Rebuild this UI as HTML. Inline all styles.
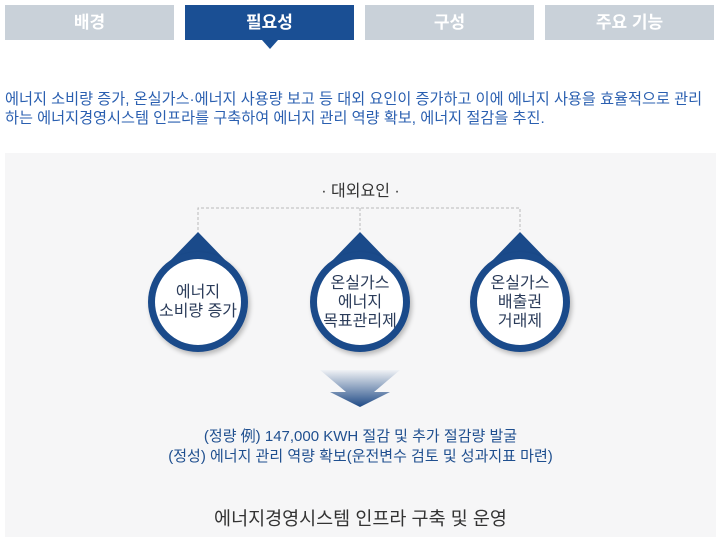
<!DOCTYPE html>
<html><head><meta charset="utf-8"><style>
*{margin:0;padding:0;box-sizing:border-box}
body{width:721px;height:537px;background:#fff;position:relative;overflow:hidden;font-family:"Liberation Sans","Noto Sans CJK KR","NanumGothic",sans-serif}
.tab{position:absolute;top:5px;width:169px;height:35px;background:#c9d1d9;color:#fff;font-size:17px;font-weight:bold;text-align:center;line-height:35px}
.tab.on{background:#1a4f94}
.intro{position:absolute;left:5px;top:90px;font-size:15.2px;color:#2a5fb0;line-height:19px;letter-spacing:0px;white-space:nowrap}
.panel{position:absolute;left:5px;top:153px;width:711px;height:384px;background:#f6f6f7}
.t{position:absolute;left:0;width:721px;text-align:center}
.drop{position:absolute;width:100px;height:100px}
.drop .c{position:absolute;left:0;top:0;width:100px;height:100px;border-radius:50%;background:#1a4a8a;box-shadow:2px 3px 5px rgba(0,0,0,.25)}
.drop .i{position:absolute;left:7px;top:7px;width:86px;height:86px;border-radius:50%;background:#fff;display:flex;align-items:center;justify-content:center;text-align:center;font-size:16px;line-height:19px;color:#2b3c5a}
</style></head><body>
<div class="tab" style="left:5px">배경</div>
<div class="tab on" style="left:185px">필요성</div>
<div style="position:absolute;left:262px;top:40px;width:0;height:0;border-left:8px solid transparent;border-right:8px solid transparent;border-top:9px solid #1a4f94"></div>
<div class="tab" style="left:365px">구성</div>
<div class="tab" style="left:545px">주요 기능</div>
<div class="intro">에너지 소비량 증가, 온실가스·에너지 사용량 보고 등 대외 요인이 증가하고 이에 에너지 사용을 효율적으로 관리<br>하는 에너지경영시스템 인프라를 구축하여 에너지 관리 역량 확보, 에너지 절감을 추진.</div>
<div class="panel"></div>
<div class="t" style="top:177px;font-size:16px;color:#333">· 대외요인 ·</div>
<svg style="position:absolute;left:0;top:0" width="721" height="537">
<path d="M198 230V208H520V230M360 208V230" fill="none" stroke="#bbb" stroke-dasharray="3,2"/>
<defs><linearGradient id="g" x1="0" y1="0" x2="0" y2="1"><stop offset="0" stop-color="#f0f2f5"/><stop offset="1" stop-color="#1f4a85"/></linearGradient></defs>
<path d="M320 370H400L374 392H390L360 407L330 392H346Z" fill="url(#g)"/>
<g fill="#1a4a8a"><path d="M198 232L166 265H230Z"/><path d="M360 232L328 265H392Z"/><path d="M520 232L488 265H552Z"/></g>
</svg>
<div class="drop" style="left:148px;top:252px"><div class="c"></div><div class="i">에너지<br>소비량 증가</div></div>
<div class="drop" style="left:310px;top:252px"><div class="c"></div><div class="i">온실가스<br>에너지<br>목표관리제</div></div>
<div class="drop" style="left:470px;top:252px"><div class="c"></div><div class="i">온실가스<br>배출권<br>거래제</div></div>
<div class="t" style="top:427px;font-size:15px;line-height:20px;color:#1f4f8f">(정량 例) 147,000 KWH 절감 및 추가 절감량 발굴<br>(정성) 에너지 관리 역량 확보(운전변수 검토 및 성과지표 마련)</div>
<div class="t" style="top:505px;font-size:18.5px;color:#333">에너지경영시스템 인프라 구축 및 운영</div>
</body></html>
